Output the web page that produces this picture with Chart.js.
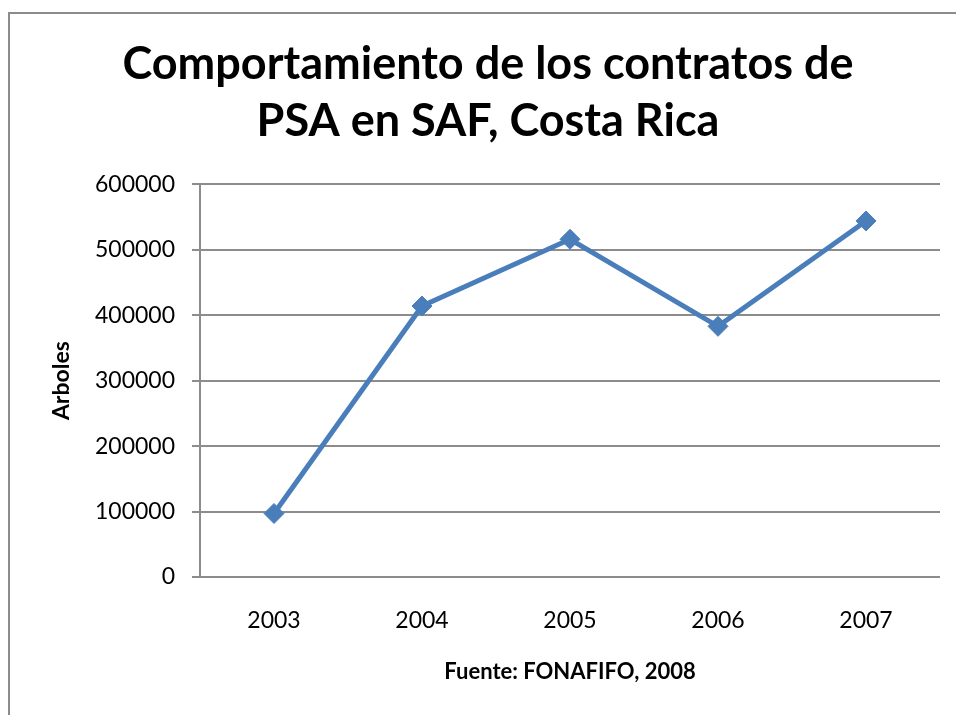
<!DOCTYPE html>
<html lang="es">
<head>
  <meta charset="UTF-8" />
  <title>Comportamiento de los contratos de PSA en SAF</title>
  <script src="https://cdn.jsdelivr.net/npm/chart.js"></script>
  <style>
    html, body {
      margin: 0;
      width: 956px;
      height: 715px;
      overflow: hidden;
      background: #ffffff;
    }

    .frame {
      position: absolute;
      left: 8px;
      top: 12px;
      width: 1000px;
      height: 800px;
      border: 2px solid #8c8c8c;
    }

    .chart-box {
      position: absolute;
      left: 0;
      top: 0;
      width: 956px;
      height: 715px;
    }
  </style>
</head>
<body>

  <div class="frame"></div>
  <div class="chart-box">
    <canvas id="psaChart" width="956" height="715"></canvas>
  </div>

  <script>
    // datos
    const years = ['2003', '2004', '2005', '2006', '2007'];
    const arboles = [97000, 414000, 516000, 383000, 544000];
    const yTicks = [0, 100000, 200000, 300000, 400000, 500000, 600000];

    const titleLines = ['Comportamiento de los contratos de', 'PSA en SAF, Costa Rica'];
    const yTitle = 'Arboles';
    const xTitle = 'Fuente: FONAFIFO, 2008';

    const gridColor = '#8c8c8c';
    const lineColor = '#4a7ebb';
    const fontFamily = "Lato, 'Open Sans', sans-serif";

    const ctx = document.getElementById('psaChart').getContext('2d');

    new Chart(ctx, {
      type: 'line',
      data: {
        labels: years,
        datasets: [{
          label: yTitle,
          data: arboles,
          borderColor: lineColor,
          backgroundColor: lineColor,
          borderWidth: 5,
          pointStyle: 'rectRot',
          pointRadius: 10,
          pointBorderWidth: 1,
          pointBackgroundColor: lineColor,
          pointBorderColor: lineColor,
          tension: 0
        }]
      },
      options: {
        responsive: false,
        animation: false,
        layout: {
          padding: { left: 36, right: 16, top: 0, bottom: 0 }
        },
        plugins: {
          legend: { display: false },
          tooltip: { enabled: false },
          title: {
            display: true,
            text: titleLines,
            color: '#000000',
            font: { family: fontFamily, size: 45, weight: 'bold', lineHeight: 1.27 },
            padding: { top: 36, bottom: 34 }
          }
        },
        scales: {
          x: {
            offset: true,
            grid: { display: false, drawTicks: false },
            border: { display: false },
            ticks: {
              color: '#000000',
              padding: 30,
              font: { family: fontFamily, size: 23 }
            },
            title: {
              display: true,
              text: xTitle,
              color: '#000000',
              font: { family: fontFamily, size: 22, weight: 'bold' },
              padding: { top: 0, bottom: 30 }
            },
            afterFit(scale) {
              scale.height = 138;
            }
          },
          y: {
            min: 0,
            max: 600000,
            afterBuildTicks(scale) {
              scale.ticks = yTicks.map(v => ({ value: v }));
            },
            grid: {
              color: gridColor,
              lineWidth: 2,
              tickLength: 8
            },
            border: { display: true, color: gridColor, width: 2 },
            ticks: {
              color: '#000000',
              padding: 17,
              font: { family: fontFamily, size: 23 },
              callback: value => String(value)
            },
            title: {
              display: true,
              text: yTitle,
              color: '#000000',
              font: { family: fontFamily, size: 23, weight: 'bold' },
              padding: { top: 12, bottom: 0 }
            },
            afterFit(scale) {
              scale.width = 164;
            }
          }
        }
      }
    });
  </script>

</body>
</html>
